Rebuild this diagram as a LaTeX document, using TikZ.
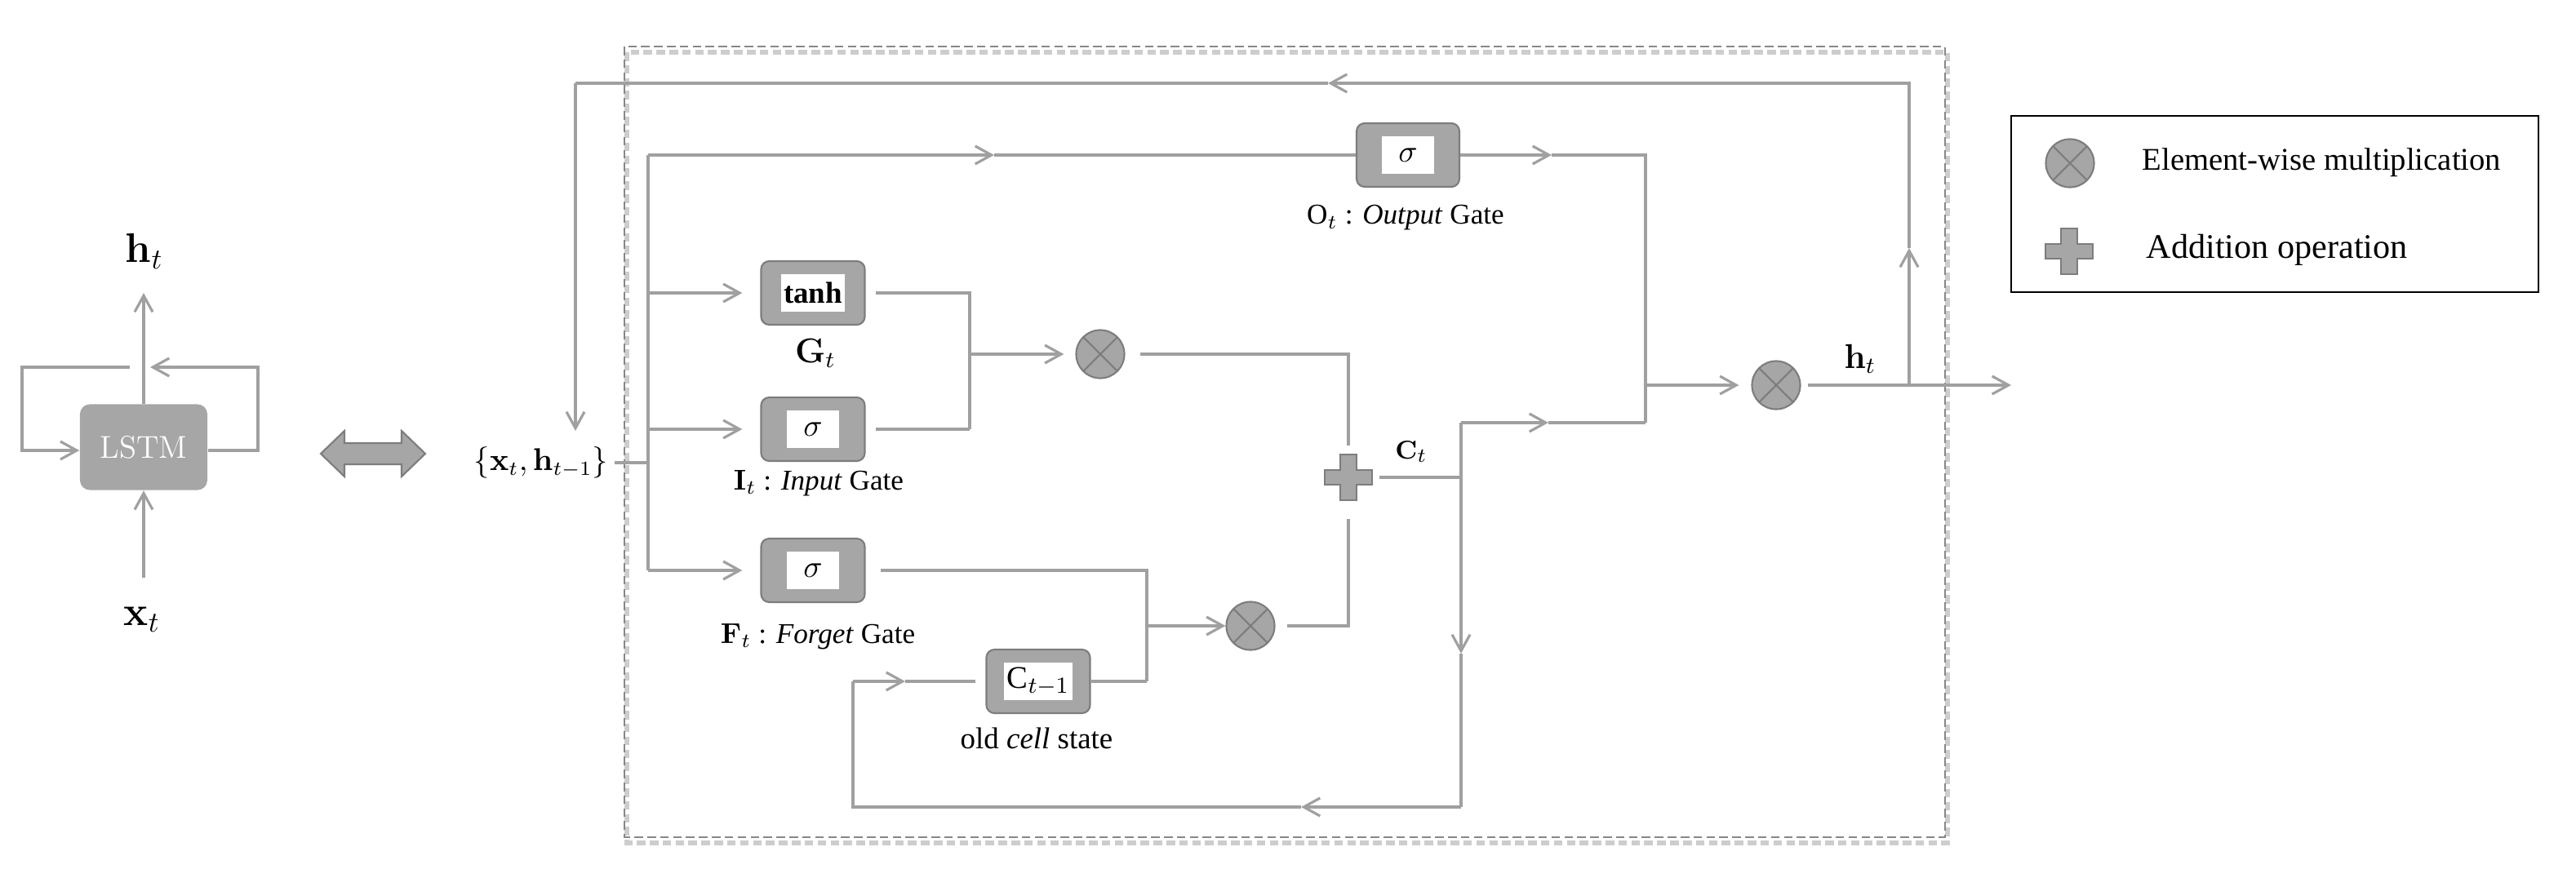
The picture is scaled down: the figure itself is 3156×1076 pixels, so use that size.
\documentclass[tikz,border=0pt]{standalone}
\usepackage[no-math]{fontspec}
\setmainfont{Liberation Serif}
\usetikzlibrary{arrows.meta,calc}
\definecolor{linegray}{RGB}{160,160,160}
\definecolor{boxgray}{RGB}{166,166,166}
\definecolor{edgegray}{RGB}{125,125,125}
\definecolor{dashgray}{RGB}{135,135,135}
\definecolor{shadowgray}{RGB}{205,205,205}
\newcommand{\crossshape}[1]{\draw[crossfill,shift={(#1)}] (-10,-28)--(10,-28)--(10,-9)--(29,-9)--(29,9)--(10,9)--(10,28)--(-10,28)--(-10,9)--(-29,9)--(-29,-9)--(-10,-9)--cycle;}
\begin{document}
\begin{tikzpicture}[x=0.01cm,y=-0.01cm,
  conn/.style={draw=linegray,line width=0.9pt},
  arr/.style={conn,-{Straight Barb[length=2mm,width=2.2mm]}},
  gatebox/.style={draw=edgegray,line width=0.6pt,fill=boxgray,rounded corners=0.1cm,minimum width=1.27cm,minimum height=0.78cm,inner sep=0},
  gateinner/.style={fill=white,inner sep=0,minimum height=0.46cm,font=\fontsize{10.5}{12}\selectfont},
  mult/.style={circle,draw=edgegray,line width=0.6pt,fill=boxgray,minimum size=0.59cm,inner sep=0,
    path picture={\draw[edgegray,line width=0.6pt] (path picture bounding box.north west)--(path picture bounding box.south east) (path picture bounding box.north east)--(path picture bounding box.south west);}},
  lbl/.style={inner sep=0,font=\fontsize{10}{12}\selectfont},
  plusc/.style={inner sep=0,minimum width=0.58cm,minimum height=0.56cm},
  crossfill/.style={fill=boxgray,draw=edgegray,line width=0.6pt},
  lstmbox/.style={fill=boxgray,rounded corners=0.12cm,minimum width=1.56cm,minimum height=1.05cm,inner sep=0,text=white,font=\fontfamily{lmr}\fontsize{11}{13}\selectfont}
]
\useasboundingbox (0,0) rectangle (3156,1076);

% ---------- dashed frame ----------
\draw[shadowgray,line width=1.6pt,dash pattern=on 3pt off 1.5pt] (768,64) rectangle (2386,1033);
\draw[dashgray,line width=0.7pt,dash pattern=on 3pt off 1.5pt] (765,57) rectangle (2383,1026);

% ---------- left: folded LSTM ----------
\node[lstmbox] (lstm) at (176,548) {LSTM};
\node[inner sep=0,font=\fontsize{14}{16}\selectfont] (hl) at (177,308) {$\mathbf{h}_t$};
\node[inner sep=0,font=\fontsize{14}{16}\selectfont] (xl) at (174,759) {$\mathbf{x}_t$};
\coordinate (hlTip) at (176,359);
\coordinate (xlTail) at (176,708);
\draw[arr] (lstm.north) -- (hlTip);
\draw[arr] (xlTail) -- (lstm.south);
\coordinate (lp1) at (159,450);
\coordinate (lp2) at (27,450);
\coordinate (lp3) at (27,552);
\draw[arr] (lp1) -- (lp2) -- (lp3) -- (lstm.west |- lp3);
\coordinate (rp1) at (316,552);
\coordinate (rp2) at (316,450);
\coordinate (rp3) at (184,450);
\draw[arr] (lstm.east |- rp1) -- (rp1) -- (rp2) -- (rp3);
\coordinate (dbl) at (457,556);
\draw[fill=boxgray,draw=edgegray,line width=0.6pt,shift={(dbl)}] (-64,0)--(-35,-28)--(-35,-13)--(35,-13)--(35,-28)--(64,0)--(35,28)--(35,13)--(-35,13)--(-35,28)--cycle;

% ---------- input and trunk ----------
\node[inner sep=0,font=\fontsize{10.5}{12}\selectfont] (inp) at (663,567) {$\{\mathbf{x}_t,\mathbf{h}_{t-1}\}$};
\coordinate (tr) at (794,567);
\coordinate (tTop) at (794,190);
\coordinate (tG) at (794,359);
\coordinate (tI) at (794,526);
\coordinate (tF) at (794,699);
\draw[conn,shorten <=0.07cm] (inp.east) -- (tr);
\draw[conn] (tTop) -- (tF);

% ---------- gates ----------
\node[gatebox] (G) at (996,359) {};
\node[gateinner,minimum width=0.77cm] (Gin) at (G) {\textbf{tanh}};
\node[gatebox] (I) at (996,526) {};
\node[gateinner,minimum width=0.64cm] (Iin) at (I) {$\sigma$};
\node[gatebox] (F) at (996,699) {};
\node[gateinner,minimum width=0.64cm] (Fin) at (F) {$\sigma$};
\node[gatebox,minimum width=1.26cm] (O) at (1725,190) {};
\node[gateinner,minimum width=0.63cm] (Oin) at (O) {$\sigma$};
\node[gatebox] (Cold) at (1272,835) {};
\node[gateinner,minimum width=0.83cm,font=\fontsize{11}{12}\selectfont] (Coldin) at (Cold) {C$_{t-1}$};

\node[inner sep=0,font=\fontsize{12}{14}\selectfont] (Glab) at (999,433) {$\mathbf{G}_t$};
\node[lbl] (Ilab) at (1003,592) {$\mathbf{I}_t$ : \textit{Input} Gate};
\node[lbl] (Flab) at (1002,780) {$\mathbf{F}_t$ : \textit{Forget} Gate};
\node[lbl] (Olab) at (1722,267) {O$_t$ : \textit{Output} Gate};
\node[lbl,font=\fontsize{10.5}{12}\selectfont] (Clab) at (1270,905) {old \textit{cell} state};

\draw[arr,shorten >=0.22cm] (tG) -- (G.west);
\draw[arr,shorten >=0.22cm] (tI) -- (I.west);
\draw[arr,shorten >=0.22cm] (tF) -- (F.west);

% ---------- operators ----------
\node[mult] (m1) at (1348,434) {};
\node[mult] (m2) at (1532,767) {};
\node[mult] (m3) at (2176,472) {};
\node[plusc] (pl) at (1652,585) {};
\crossshape{pl}

% G, I -> m1 -> plus
\coordinate (j1a) at (1188,359);
\coordinate (j1b) at (1188,526);
\coordinate (j1m) at (1188,434);
\draw[conn,shorten <=0.12cm] (G.east) -- (j1a) -- (j1b);
\draw[conn,shorten <=0.12cm] (I.east) -- (j1b);
\draw[arr,shorten >=0.14cm] (j1m) -- (m1.west);
\coordinate (k1) at (1652,434);
\draw[conn,shorten <=0.18cm,shorten >=0.1cm] (m1.east) -- (k1) -- (pl.north);

% F, C_{t-1} -> m2 -> plus
\coordinate (j2a) at (1405,699);
\coordinate (j2b) at (1405,835);
\coordinate (j2m) at (1405,767);
\draw[conn,shorten <=0.18cm] (F.east) -- (j2a) -- (j2b);
\draw[conn] (Cold.east) -- (j2b);
\draw[arr] (j2m) -- (m2.west);
\coordinate (k2) at (1652,767);
\draw[conn,shorten <=0.14cm,shorten >=0.22cm] (m2.east) -- (k2) -- (pl.south);

% plus -> C_t
\coordinate (cj) at (1790,585);
\draw[conn,shorten <=0.08cm] (pl.east) -- (cj);
\node[inner sep=0,font=\fontsize{9.5}{11}\selectfont] (Ct) at (1729,554) {$\mathbf{C}_t$};
\coordinate (cu) at (1790,518);
\coordinate (cuA) at (1897,518);
\coordinate (oj) at (2016,518);
\draw[conn] (cj) -- (cu);
\draw[arr] (cu) -- (cuA);
\draw[conn] (cuA) -- (oj);
\coordinate (cdA) at (1790,801);
\coordinate (cb) at (1790,989);
\coordinate (bA) at (1594,989);
\coordinate (bl) at (1045,989);
\coordinate (cl) at (1045,835);
\coordinate (clA) at (1109,835);
\draw[arr] (cj) -- (cdA);
\draw[conn] (cdA) -- (cb);
\draw[arr] (cb) -- (bA);
\draw[conn] (bA) -- (bl) -- (cl);
\draw[arr] (cl) -- (clA);
\draw[conn,shorten >=0.12cm] (clA) -- (Cold.west);

% output gate path
\coordinate (oA) at (1218,190);
\draw[arr] (tTop) -- (oA);
\draw[conn] (oA) -- (O.west);
\coordinate (oB) at (1901,190);
\coordinate (oc) at (2016,190);
\coordinate (om) at (2016,472);
\draw[arr] (O.east) -- (oB);
\draw[conn] (oB) -- (oc) -- (oj);
\draw[arr,shorten >=0.15cm] (om) -- (m3.west);

% h_t output and feedback
\coordinate (hb) at (2339,472);
\coordinate (hout) at (2464,472);
\draw[conn,shorten <=0.08cm] (m3.east) -- (hb);
\draw[arr] (hb) -- (hout);
\node[inner sep=0,font=\fontsize{12}{14}\selectfont] (hr) at (2279,440) {$\mathbf{h}_t$};
\coordinate (fA) at (2339,304);
\coordinate (ftr) at (2339,102);
\coordinate (fB) at (1627,102);
\coordinate (ftl) at (705,102);
\coordinate (fC) at (705,528);
\draw[arr] (hb) -- (fA);
\draw[arr] (fA) -- (ftr) -- (fB);
\draw[conn] (fB) -- (ftl);
\draw[arr] (ftl) -- (fC);

% ---------- legend ----------
\node[draw=black,line width=0.6pt,minimum width=6.46cm,minimum height=2.16cm,inner sep=0] (legend) at (2787,250) {};
\node[mult] (lm) at (2536,200) {};
\node[anchor=west,inner sep=0,font=\fontsize{11}{13}\selectfont] (lmt) at (2624,199) {Element-wise multiplication};
\node[plusc] (lp) at (2535,308) {};
\crossshape{lp}
\node[anchor=west,inner sep=0,font=\fontsize{12}{14}\selectfont] (lpt) at (2629,306) {Addition operation};
\end{tikzpicture}
\end{document}
